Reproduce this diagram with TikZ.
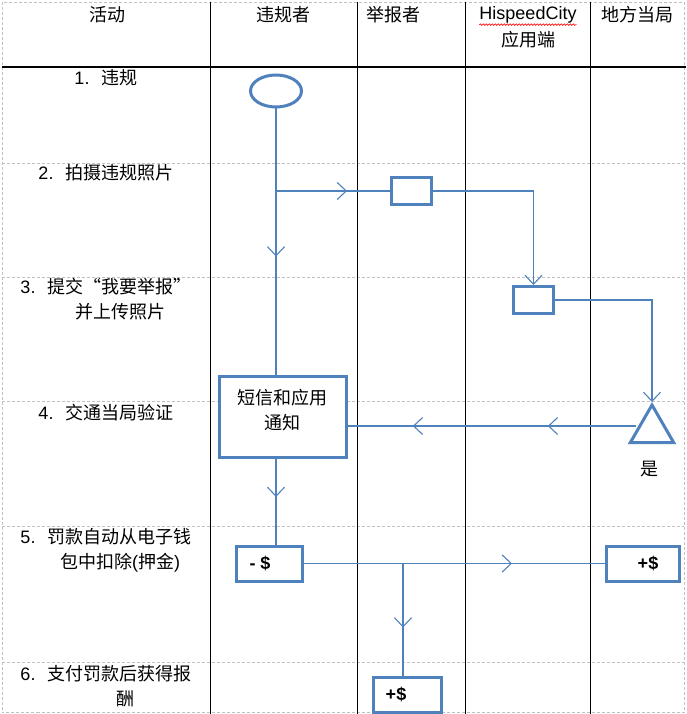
\documentclass[tikz,border=0pt]{standalone}
\usepackage{fontspec}
\setmainfont{Liberation Sans}
\newfontfamily\cjk{Noto Sans CJK SC}
\newcommand\zh[1]{{\cjk #1}}
\usetikzlibrary{arrows.meta,decorations.markings,decorations.pathmorphing,shapes.geometric}
\definecolor{flowblue}{HTML}{4F81BD}
\definecolor{gridgray}{HTML}{C0C0C0}
\begin{document}
\begin{tikzpicture}[x=1pt,y=-1pt,
  every node/.style={font=\fontsize{18}{24.5}\selectfont, inner sep=0pt, align=center},
  >={Straight Barb[length=9pt,width=17pt,line width=1.1pt]},
  box/.style={draw=flowblue, line width=3pt, fill=white, rectangle},
  conn/.style={draw=flowblue, line width=1.3pt},
  marrow/.style={postaction={decorate}, decoration={markings, mark=at position #1 with {\arrow[flowblue]{>}}}},
  gridline/.style={draw=gridgray, line width=0.8pt, dash pattern=on 3pt off 2pt},
  lane/.style={draw=black, line width=1pt}]
\useasboundingbox (0,0) rectangle (686,714);
% grid
\draw[gridline] (2,2) rectangle (684,712.5);
\foreach \y in {163,277,401,526,662} \draw[gridline] (2,\y) -- (684,\y);
\foreach \x in {210,357,465,590} \draw[lane] (\x,2) -- (\x,714);
\draw[draw=black, line width=1.5pt] (2,67) -- (686,67);
% header
\node (h1) at (107,15) {\zh{活动}};
\node (h2) at (283,15) {\zh{违规者}};
\node (h3) at (393,15) {\zh{举报者}};
\node (h4) at (528,15) {HispeedCity};
\node (h4b) at (528,40) {\zh{应用端}};
\node (h5) at (637,15) {\zh{地方当局}};
\draw[red, line width=0.6pt, decorate, decoration={snake, segment length=3pt, amplitude=0.8pt}] ([yshift=-1pt]h4.south west) -- ([yshift=-1pt]h4.south east);
% activity labels
\node (l1) at (106,78) {1.\hspace{12pt}\zh{违规}};
\node (l2) at (106,173) {2.\hspace{12pt}\zh{拍摄违规照片}};
\node (l3) at (106,299) {3.\hspace{12pt}\zh{提交“我要举报”}\\\hspace*{28pt}\zh{并上传照片}};
\node (l4) at (106,413) {4.\hspace{12pt}\zh{交通当局验证}};
\node (l5) at (106,550.5) {5.\hspace{12pt}\zh{罚款自动从电子钱}\\\hspace*{28pt}\zh{包中扣除}(\zh{押金})};
\node (l6) at (106,686) {6.\hspace{12pt}\zh{支付罚款后获得报}\\\hspace*{38pt}\zh{酬}};
% shapes
\node[ellipse, draw=flowblue, line width=3pt, fill=white, minimum width=51pt, minimum height=32pt] (start) at (276,91) {};
\node[box, minimum width=40pt, minimum height=27pt] (b1) at (411.5,191) {};
\node[box, minimum width=40pt, minimum height=27pt] (b2) at (533.5,300) {};
\node[regular polygon, regular polygon sides=3, draw=flowblue, line width=3pt, fill=white, minimum size=50pt] (tri) at (652,430) {};
\node (yes) at (649,469) {\zh{是}};
\node[box, minimum width=127pt, minimum height=81pt] (sms) at (283,417) {};
\node (smstext) at (282,410) {\zh{短信和应用}\\\zh{通知}};
\node[box, minimum width=66pt, minimum height=35pt] (neg) at (269.5,563.5) {};
\node (negtext) at (260,563.5) {\bfseries - \$};
\node[box, minimum width=73pt, minimum height=35pt] (pos1) at (643,563.5) {};
\node (pos1text) at (648,563.5) {\bfseries +\$};
\node[box, minimum width=68pt, minimum height=35pt] (pos2) at (407.5,695) {};
\node (pos2text) at (396,694) {\bfseries +\$};
% connectors
\draw[conn, marrow=148pt] (start.south) -- (start.south |- sms.north);
\coordinate (br1) at (start.south |- b1.west);
\draw[conn, marrow=71pt] (br1) -- (b1.west);
\draw[conn, ->] (b1.east) -| (b2.north);
\draw[conn, ->] (b2.east) -| (tri.north);
\coordinate (trl) at ([yshift=4pt]tri.180);
\draw[conn, postaction={decorate}, decoration={markings,
   mark=at position 88pt with {\arrow[flowblue]{>}},
   mark=at position 223pt with {\arrow[flowblue]{>}}}] (trl) -- (trl -| sms.east);
\draw[conn, marrow=38pt] (start.south |- sms.south) -- (start.south |- neg.north);
\draw[conn, marrow=208pt] (neg.east) -- (pos1.west);
\coordinate (br2) at (403,563.5);
\draw[conn, marrow=64pt] (br2) -- (br2 |- pos2.north);
\end{tikzpicture}
\end{document}
